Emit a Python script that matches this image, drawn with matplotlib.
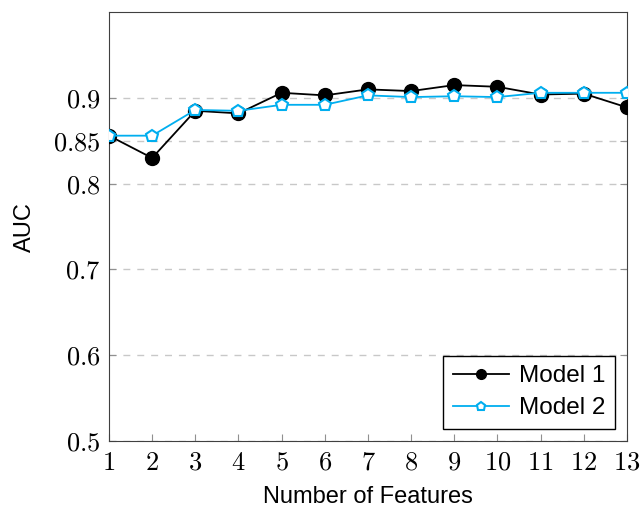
import matplotlib.pyplot as plt

plt.rcParams['mathtext.fontset'] = 'cm'
plt.rcParams['font.family'] = ['Liberation Sans', 'DejaVu Sans']

# data
n_features = [1, 2, 3, 4, 5, 6, 7, 8, 9, 10, 11, 12, 13]
model1_auc = [0.856, 0.830, 0.885, 0.882, 0.906, 0.903, 0.910, 0.908, 0.915, 0.913, 0.904, 0.905, 0.889]
model2_auc = [0.856, 0.856, 0.886, 0.885, 0.892, 0.892, 0.903, 0.901, 0.902, 0.901, 0.906, 0.906, 0.906]
y_ticks = [0.5, 0.6, 0.7, 0.8, 0.85, 0.9]

fig = plt.figure(figsize=(6.41, 5.08), dpi=100)
ax = fig.add_axes([0.170, 0.132, 0.808, 0.844])

for y in y_ticks:
    ax.axhline(y, color='#c8c8c8', linestyle=(0, (5, 5)), linewidth=1.0, zorder=0)

ax.plot(n_features, model1_auc, color='black', marker='o', markersize=10,
        linewidth=1.3, label='Model 1', zorder=3)
ax.plot(n_features, model2_auc, color='#00aeef', marker='p', markersize=9,
        markerfacecolor='white', markeredgewidth=1.5, linewidth=1.3,
        label='Model 2', zorder=4)

ax.set_xlim(1, 13)
ax.set_ylim(0.5, 1.0)
ax.set_xticks(n_features)
ax.set_xticklabels([f'${v}$' for v in n_features], fontsize=19)
ax.set_yticks(y_ticks)
ax.set_yticklabels([f'${v}$' for v in y_ticks], fontsize=19)
ax.tick_params(axis='x', direction='in', length=5, color='#909090', pad=7)
ax.tick_params(axis='y', direction='in', length=5, right=True, color='#909090', pad=6)
for s in ax.spines.values():
    s.set_color('#404040')

ax.set_xlabel('Number of Features', fontsize=17, labelpad=8)
ax.set_ylabel('AUC', fontsize=17, labelpad=12)

leg = ax.legend(loc='lower right', fontsize=17.5, fancybox=False, framealpha=1,
                edgecolor='black', handlelength=2.3, borderpad=0.4,
                labelspacing=0.4, handletextpad=0.4, markerscale=0.7,
                borderaxespad=0.5)
leg.get_frame().set_linewidth(1.0)

fig.savefig('out.png', dpi=100)
